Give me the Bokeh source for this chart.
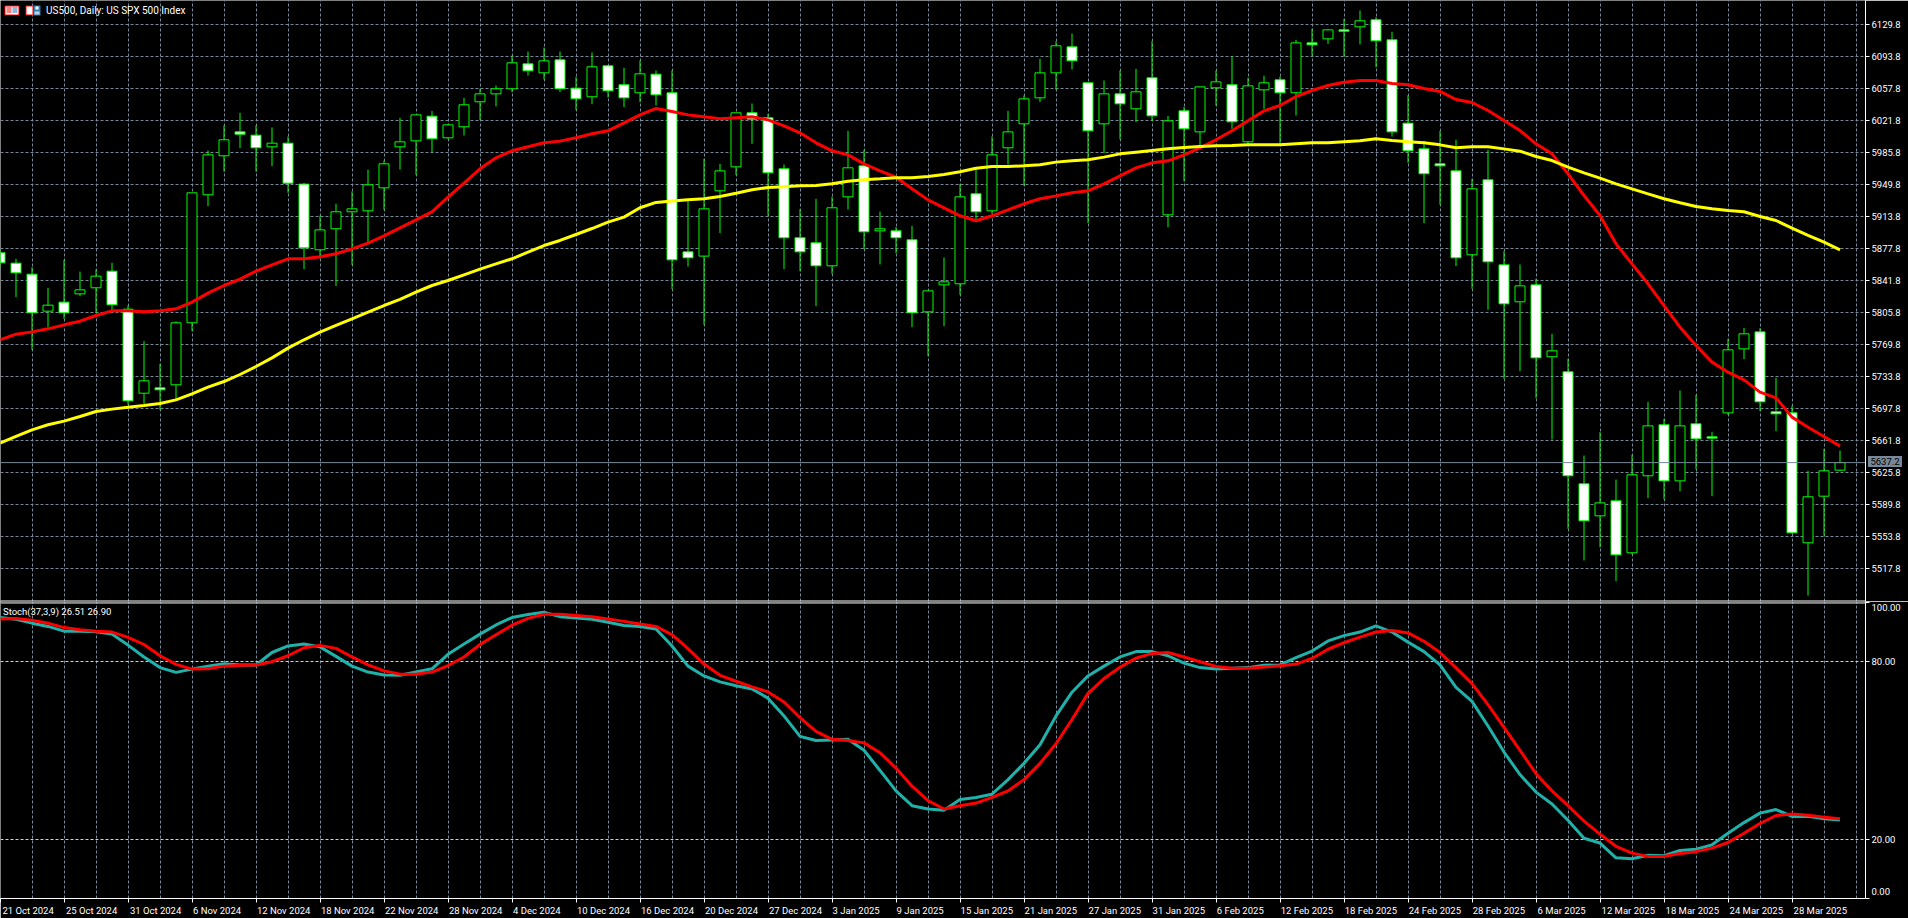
from bokeh.plotting import figure
from bokeh.layouts import column
from bokeh.models import (Range1d, FixedTicker, Grid, Span, Label, BoxAnnotation, NumeralTickFormatter,
                          AllLabels, Div)
from bokeh.embed import file_html
from bokeh.resources import INLINE

dates = ["21 Oct 2024", "25 Oct 2024", "31 Oct 2024", "6 Nov 2024", "12 Nov 2024", "18 Nov 2024", "22 Nov 2024",
         "28 Nov 2024", "4 Dec 2024", "10 Dec 2024", "16 Dec 2024", "20 Dec 2024", "27 Dec 2024", "3 Jan 2025",
         "9 Jan 2025", "15 Jan 2025", "21 Jan 2025", "27 Jan 2025", "31 Jan 2025", "6 Feb 2025", "12 Feb 2025",
         "18 Feb 2025", "24 Feb 2025", "28 Feb 2025", "6 Mar 2025", "12 Mar 2025", "18 Mar 2025", "24 Mar 2025",
         "28 Mar 2025"]
price_ticks = [6129.8, 6093.8, 6057.8, 6021.8, 5985.8, 5949.8, 5913.8, 5877.8, 5841.8, 5805.8, 5769.8, 5733.8,
               5697.8, 5661.8, 5625.8, 5589.8, 5553.8, 5517.8]
stoch_ticks = [100, 80, 20, 0]
last_price = 5637.2

opens = [5872.9, 5861.3, 5848.9, 5807.4, 5817.5, 5826.8, 5833.6, 5852.3, 5809.6, 5715.2, 5721.2, 5724.6,
         5794.3, 5938.1, 5981.9, 6008.8, 6005.1, 5992.0, 5996.1, 5950.1, 5876.3, 5899.9, 5919.0, 5920.1,
         5945.9, 5992.0, 5998.7, 6026.4, 6002.1, 6014.5, 6042.6, 6051.5, 6057.2, 6085.2, 6075.1, 6089.7,
         6057.9, 6048.2, 6083.0, 6061.7, 6052.7, 6073.6, 6052.7, 5874.0, 5869.2, 5942.6, 5969.5, 6030.2,
         6024.6, 5967.3, 5889.8, 5884.1, 5858.3, 5935.8, 5970.6, 5897.6, 5897.6, 5887.5, 5806.6, 5836.9,
         5838.1, 5939.2, 5920.1, 5990.9, 6017.8, 6047.0, 6075.1, 6104.3, 6063.9, 6017.8, 6051.5, 6034.7,
         6069.5, 5915.6, 6032.4, 6008.8, 6058.3, 6061.7, 5997.6, 6056.0, 6067.3, 6052.7, 6108.8, 6113.3,
         6123.4, 6126.8, 6134.7, 6112.2, 6018.6, 5989.7, 5972.9, 5965.0, 5870.7, 5954.9, 5859.4, 5817.9,
         5836.9, 5756.1, 5739.2, 5613.4, 5577.4, 5594.3, 5535.9, 5622.4, 5679.7, 5616.7, 5680.8, 5666.2,
         5693.1, 5765.0, 5784.1, 5694.3, 5693.1, 5547.1, 5599.5, 5628.7]
highs = [5877.4, 5866.2, 5856.8, 5833.6, 5865.0, 5851.9, 5854.2, 5861.7, 5813.7, 5773.7, 5748.2, 5795.8,
         5940.3, 5987.9, 6016.0, 6030.2, 6016.0, 6013.7, 6003.6, 5951.5, 5914.8, 5928.0, 5941.8, 5966.5,
         5976.6, 6024.6, 6027.9, 6032.4, 6017.8, 6047.0, 6057.2, 6060.9, 6094.6, 6099.1, 6103.6, 6099.1,
         6070.6, 6098.0, 6084.1, 6080.8, 6089.0, 6077.8, 6077.8, 5931.7, 5978.5, 5972.9, 6030.2, 6040.7,
         6029.1, 5972.1, 5922.0, 5933.6, 5935.8, 6010.0, 5988.6, 5919.3, 5901.7, 5903.2, 5830.2, 5867.7,
         5950.4, 5967.3, 6003.6, 6032.4, 6049.7, 6090.9, 6110.7, 6119.3, 6063.9, 6066.5, 6077.8, 6079.6,
         6110.7, 6026.8, 6036.9, 6059.4, 6077.8, 6093.5, 6069.5, 6071.8, 6071.0, 6112.2, 6124.6, 6124.6,
         6135.8, 6145.2, 6137.7, 6121.2, 6050.0, 5998.7, 6010.0, 5999.9, 5956.0, 5988.6, 5874.8, 5859.8,
         5843.7, 5781.9, 5753.8, 5645.2, 5671.4, 5618.2, 5646.0, 5705.5, 5686.4, 5718.2, 5713.4, 5671.8,
         5776.3, 5788.6, 5788.3, 5732.5, 5701.0, 5628.0, 5652.7, 5650.8]
lows = [5856.8, 5823.1, 5763.9, 5789.4, 5798.8, 5824.2, 5805.1, 5808.1, 5702.5, 5703.3, 5696.5, 5708.9,
        5784.9, 5925.3, 5964.3, 5990.5, 5964.3, 5970.3, 5940.3, 5854.6, 5866.2, 5835.5, 5859.4, 5884.9,
        5921.2, 5966.5, 5960.5, 5986.0, 6001.0, 6004.7, 6022.3, 6037.3, 6053.4, 6072.1, 6067.6, 6053.4,
        6033.2, 6039.9, 6047.4, 6036.6, 6042.2, 6038.4, 5832.1, 5857.5, 5792.0, 5895.0, 5960.2, 5995.4,
        5914.8, 5854.6, 5852.3, 5813.0, 5849.3, 5921.6, 5877.0, 5859.8, 5872.5, 5789.4, 5756.8, 5790.5,
        5825.7, 5907.4, 5916.7, 5972.1, 5948.2, 6042.2, 6056.0, 6078.9, 5906.2, 5984.9, 6000.6, 6019.7,
        6020.8, 5901.7, 5953.4, 5991.6, 6038.1, 6012.2, 5995.4, 6034.7, 5995.4, 6027.2, 6094.6, 6107.7,
        6093.5, 6107.0, 6081.5, 6003.6, 5974.0, 5906.2, 5926.8, 5857.9, 5832.5, 5808.9, 5731.3, 5740.0,
        5709.6, 5663.2, 5562.8, 5527.2, 5542.2, 5504.0, 5534.0, 5597.3, 5596.1, 5605.1, 5629.5, 5599.5,
        5690.9, 5753.4, 5695.0, 5672.5, 5557.2, 5487.9, 5555.3, 5627.6]
closes = [5861.7, 5850.4, 5805.5, 5814.1, 5805.5, 5831.3, 5846.7, 5814.5, 5706.6, 5729.1, 5719.0, 5794.3,
          5940.3, 5983.0, 5999.9, 6006.2, 5990.9, 5996.1, 5951.2, 5878.5, 5898.7, 5919.0, 5922.3, 5949.3,
          5972.9, 5997.6, 6027.9, 6001.0, 6016.7, 6039.2, 6051.5, 6057.2, 6086.4, 6077.4, 6088.6, 6057.2,
          6045.9, 6081.9, 6054.9, 6047.0, 6074.0, 6050.4, 5865.0, 5867.3, 5922.3, 5965.0, 6030.2, 6023.1,
          5962.8, 5889.8, 5874.0, 5858.3, 5923.5, 5968.4, 5896.5, 5899.9, 5889.8, 5805.5, 5830.2, 5840.3,
          5935.8, 5919.0, 5983.0, 6008.8, 6045.9, 6075.1, 6105.5, 6088.6, 6010.0, 6051.5, 6040.3, 6053.8,
          6026.8, 6021.2, 6012.2, 6059.4, 6065.0, 6020.1, 6060.5, 6063.9, 6052.7, 6108.8, 6106.6, 6123.4,
          6121.9, 6133.6, 6111.1, 6008.8, 5987.5, 5961.7, 5970.6, 5867.3, 5944.8, 5862.8, 5815.6, 5835.8,
          5754.9, 5762.8, 5622.4, 5571.8, 5592.0, 5533.6, 5623.5, 5678.5, 5616.7, 5678.5, 5663.9, 5664.7,
          5763.9, 5781.9, 5705.5, 5692.0, 5558.3, 5598.8, 5628.0, 5637.2]
ma_red = [5775.2, 5781.5, 5784.1, 5787.5, 5792.0, 5796.1, 5802.5, 5807.7, 5807.7, 5806.6, 5807.7, 5810.0,
          5817.5, 5827.6, 5836.2, 5843.3, 5852.3, 5859.4, 5866.2, 5866.2, 5868.4, 5871.8, 5877.4, 5883.8,
          5892.0, 5901.0, 5910.0, 5919.0, 5935.4, 5951.2, 5967.3, 5979.6, 5987.5, 5992.0, 5996.5, 5998.4,
          6002.1, 6006.6, 6010.0, 6019.0, 6027.9, 6035.1, 6031.7, 6027.9, 6025.7, 6023.5, 6024.6, 6025.7,
          6022.3, 6015.6, 6007.7, 5996.5, 5987.5, 5983.0, 5972.9, 5965.0, 5957.9, 5944.8, 5932.4, 5923.5,
          5914.5, 5908.9, 5914.5, 5921.2, 5928.0, 5933.6, 5936.9, 5940.3, 5942.6, 5950.4, 5959.4, 5968.4,
          5974.0, 5976.3, 5983.0, 5990.9, 5999.9, 6010.0, 6021.2, 6032.4, 6038.4, 6048.5, 6055.3, 6060.9,
          6064.6, 6066.5, 6066.5, 6063.1, 6061.7, 6057.5, 6054.2, 6045.2, 6041.8, 6032.8, 6021.6, 6010.3,
          5995.4, 5984.1, 5961.7, 5937.3, 5914.8, 5883.0, 5860.5, 5838.1, 5813.7, 5789.4, 5768.8, 5750.1,
          5738.8, 5730.2, 5716.4, 5710.0, 5688.3, 5677.0, 5666.6, 5655.7]
ma_yellow = [5659.1, 5666.6, 5674.0, 5679.7, 5683.8, 5689.0, 5694.6, 5697.3, 5699.5, 5701.4, 5703.6, 5707.7,
             5714.5, 5722.0, 5728.3, 5736.2, 5745.2, 5754.9, 5765.8, 5775.2, 5783.8, 5791.3, 5798.8, 5806.2,
             5813.7, 5820.5, 5828.7, 5836.2, 5841.8, 5848.2, 5854.6, 5860.5, 5866.2, 5873.7, 5881.1, 5886.8,
             5893.5, 5900.2, 5907.4, 5913.0, 5923.5, 5929.5, 5931.0, 5932.4, 5933.6, 5936.2, 5939.9, 5943.7,
             5946.3, 5947.1, 5948.2, 5948.6, 5950.4, 5953.4, 5954.9, 5956.0, 5957.2, 5957.2, 5958.7, 5960.9,
             5963.9, 5968.0, 5969.9, 5969.9, 5970.6, 5971.8, 5974.8, 5976.3, 5977.4, 5980.4, 5984.1, 5986.0,
             5987.9, 5989.7, 5991.2, 5992.4, 5993.1, 5993.5, 5994.2, 5994.2, 5994.2, 5995.4, 5996.5, 5996.5,
             5997.6, 5998.7, 6001.0, 5999.1, 5997.6, 5996.5, 5994.2, 5990.9, 5992.0, 5992.0, 5989.7, 5987.1,
             5981.1, 5976.6, 5969.1, 5962.8, 5956.8, 5950.4, 5944.8, 5939.2, 5933.6, 5929.1, 5925.0, 5922.3,
             5920.5, 5919.0, 5913.7, 5909.2, 5900.6, 5892.4, 5884.9, 5876.3]
stoch_main = [94.8, 94.2, 92.9, 91.8, 90.2, 90.2, 90.0, 89.2, 85.5, 81.5, 77.9, 76.3, 77.4, 78.4, 79.2, 78.8,
              78.8, 83.0, 85.2, 85.9, 84.9, 81.7, 78.4, 76.4, 75.4, 75.3, 76.4, 77.5, 82.4, 85.9, 89.2, 92.3,
              94.8, 95.8, 96.6, 95.1, 94.6, 94.2, 93.2, 92.1, 91.8, 90.9, 85.2, 78.4, 75.1, 73.1, 71.8, 70.7,
              67.6, 61.6, 54.7, 53.3, 53.5, 53.7, 50.0, 43.2, 36.3, 31.3, 30.2, 29.8, 33.4, 34.1, 35.2, 40.1,
              45.6, 51.9, 61.6, 69.6, 75.1, 78.4, 81.5, 83.3, 83.3, 81.9, 79.4, 77.9, 77.4, 77.7, 77.9, 78.7,
              78.8, 81.3, 83.5, 86.9, 88.7, 89.9, 92.0, 89.9, 86.5, 83.3, 78.8, 71.2, 66.5, 58.2, 49.4, 41.8,
              35.9, 31.9, 26.4, 20.3, 18.7, 13.7, 13.4, 14.6, 14.4, 16.2, 16.6, 18.1, 22.0, 25.6, 28.8, 30.0,
              27.7, 27.7, 26.9, 26.5]
stoch_signal = [94.3, 94.5, 93.9, 92.9, 91.4, 90.7, 90.2, 89.9, 88.1, 85.7, 81.9, 79.0, 77.4, 77.5, 78.4, 78.7,
                78.8, 79.9, 81.9, 84.6, 85.4, 84.4, 81.5, 78.8, 76.8, 75.7, 75.7, 76.4, 78.6, 81.5, 85.7, 89.0,
                92.2, 94.5, 95.9, 95.9, 95.5, 95.1, 94.3, 93.5, 92.6, 91.8, 89.0, 84.3, 79.1, 75.3, 73.3, 71.4,
                69.7, 66.3, 61.0, 56.4, 53.7, 53.3, 52.5, 49.2, 44.0, 37.9, 33.0, 30.2, 31.3, 32.2, 34.1, 36.3,
                40.1, 45.6, 52.2, 60.4, 69.2, 74.2, 78.0, 81.1, 82.7, 83.0, 81.5, 79.9, 78.3, 77.7, 77.7, 78.1,
                78.5, 79.1, 81.0, 84.1, 86.3, 88.2, 89.9, 90.4, 89.6, 86.8, 83.0, 77.8, 72.5, 65.4, 57.7, 50.0,
                42.1, 36.3, 31.3, 26.1, 21.7, 17.6, 15.3, 14.2, 14.2, 15.2, 15.8, 17.0, 18.9, 22.0, 25.3, 28.0,
                28.5, 28.1, 27.4, 26.9]
bars = list(range(len(opens)))

# ---------- layout constants (pixels of the page)
AXIS_X = 1865
TOP_H = 601
SUB_FRAME_H = 304
FONT = "Roboto"
FSIZE = "9.5px"
GRID = "#778899"
LIME = "#00ff00"

x_start = 0.5 / 16
x_end = x_start + AXIS_X / 16
main_top = 6156.39
price_per_px = 1.1235
main_bottom = main_top - TOP_H * price_per_px
sub_top = 100.21
sub_bottom = -0.01


def xp(px):
    return x_start + px / 16


def yp(py):
    return main_top - py * price_per_px


def ys(py):
    return sub_top - py * (sub_top - sub_bottom) / SUB_FRAME_H


grid_x = [i for i in range(2, 118, 2)]
tick_x = [x_start] + [i for i in range(4, 113, 4)]


def text_width(s):
    wide = {"M": 8.0, "N": 6.8, "O": 6.6, "D": 6.4, "F": 5.2, "J": 5.0, "A": 6.2, " ": 2.4}
    return sum(wide.get(c, 5.0 if c.isalpha() else 5.3) for c in s)


# the terminal writes a date to the right of its tick: the label sits at its centre, the mark at the tick
label_x = [t + (text_width(d) / 2 + 1) / 16 for t, d in zip(tick_x, dates)]


def base(height, **kw):
    f = figure(width=1908, height=height, toolbar_location=None, tools="", output_backend="svg",
               x_range=Range1d(x_start, x_end), background_fill_color="black", border_fill_color="black",
               outline_line_color=None, min_border=0, min_border_right=1908 - AXIS_X, **kw)
    for g in f.grid:
        g.visible = False
    f.add_layout(Grid(dimension=0, ticker=FixedTicker(ticks=grid_x), grid_line_color=GRID,
                      grid_line_dash="3 2", grid_line_width=1))
    ax = f.yaxis[0]
    ax.axis_line_color = "white"
    ax.major_tick_line_color = "white"
    ax.major_tick_out = 4
    ax.major_tick_in = 0
    ax.minor_tick_line_color = None
    ax.major_label_text_color = "white"
    ax.major_label_text_font = FONT
    ax.major_label_text_font_size = FSIZE
    ax.major_label_standoff = 2
    ax.major_label_policy = AllLabels()
    return f


# ---------- price pane
p1 = base(TOP_H, y_range=Range1d(main_bottom, main_top), x_axis_location=None, y_axis_location="right")
p1.yaxis[0].ticker = FixedTicker(ticks=price_ticks)
p1.yaxis[0].formatter = NumeralTickFormatter(format="0.0")
p1.add_layout(Grid(dimension=1, ticker=FixedTicker(ticks=price_ticks), grid_line_color=GRID,
                   grid_line_dash="3 2", grid_line_width=1))
p1.add_layout(Span(location=last_price, dimension="width", line_color=GRID, line_width=1))
p1.add_layout(Span(location=yp(600.5), dimension="width", line_color="white", line_width=1))

p1.segment(bars, lows, bars, highs, line_color=LIME, line_width=1)
up = [i for i in bars if closes[i] >= opens[i]]
down = [i for i in bars if closes[i] < opens[i]]
p1.vbar(up, width=0.625, top=[closes[i] for i in up], bottom=[opens[i] for i in up],
        fill_color="black", line_color=LIME, line_width=1)
p1.vbar(down, width=0.625, top=[opens[i] for i in down], bottom=[closes[i] for i in down],
        fill_color="white", line_color=LIME, line_width=1)
p1.line(bars, ma_red, line_color="#ff0000", line_width=3)
p1.line(bars, ma_yellow, line_color="#ffff00", line_width=3)

p1.add_layout(Label(x=xp(45.5), y=yp(10), text="US500, Daily:  US SPX 500 Index", text_color="white",
                    text_font=FONT, text_font_size="10px", text_baseline="middle"))


def box(l, r, t, b, color):
    p1.add_layout(BoxAnnotation(left=xp(l), right=xp(r), top=yp(t), bottom=yp(b), fill_color=color,
                                fill_alpha=1, line_color=None, level="overlay"))


# toolbar icons of the terminal
box(4, 19, 5, 15, "#ff0000")
box(5, 18, 6, 14, "#ffffff")
for row in (7, 9, 11):
    box(6, 11, row, row + 1, "#ff0000")
    box(12, 17, row, row + 1, "#1f6fb5")
box(25, 33, 5, 15, "#ff0000")
box(26, 32, 6, 14, "#ffffff")
box(33, 40, 5, 15, "#2f7fb8")
box(35, 38, 6, 9, "#ffffff")
box(34, 39, 11, 14, "#c8d0d8")

# ---------- stochastic pane
p2 = base(918 - TOP_H, y_range=Range1d(sub_bottom, sub_top), y_axis_location="right")
p2.min_border_bottom = 13
ya = p2.yaxis[0]
ya.ticker = FixedTicker(ticks=[ys(6.3), 80, 20, ys(297.3)], minor_ticks=stoch_ticks)
ya.major_label_overrides = {ys(6.3): "100.00", 80: "80.00", 20: "20.00", ys(297.3): "0.00"}
ya.major_tick_line_color = None
ya.minor_tick_line_color = "white"
ya.minor_tick_out = 4
ya.minor_tick_in = 0
p2.add_layout(Grid(dimension=1, ticker=FixedTicker(ticks=[20, 80]), grid_line_color="#d0d4d8",
                   grid_line_dash="3 2", grid_line_width=1))
p2.add_layout(Span(location=ys(1.5), dimension="width", line_color="white", line_width=1))
xa = p2.xaxis[0]
xa.ticker = FixedTicker(ticks=label_x, minor_ticks=tick_x)
xa.major_label_overrides = dict(zip(label_x, dates))
xa.axis_line_color = "white"
xa.major_tick_line_color = None
xa.major_tick_out = 0
xa.major_tick_in = 0
xa.minor_tick_line_color = "white"
xa.minor_tick_out = 4
xa.minor_tick_in = 0
xa.major_label_text_color = "white"
xa.major_label_text_font = FONT
xa.major_label_text_font_size = FSIZE
xa.major_label_standoff = 2
xa.major_label_policy = AllLabels()

p2.line(bars, stoch_main, line_color="#20b2aa", line_width=3)
p2.line(bars, stoch_signal, line_color="#ff0000", line_width=3)
p2.add_layout(Label(x=xp(2.5), y=ys(10.7), text="Stoch(37,3,9) 26.51 26.90", text_color="white", text_font=FONT,
                    text_font_size=FSIZE, text_baseline="middle"))

# ---------- last price tag, laid over the price axis
tag = Div(text="%.1f" % last_price, width=34, height=11, margin=0,
          styles={"position": "absolute", "left": "1868px", "top": "456px", "background-color": GRID,
                  "color": "black", "font-family": FONT, "font-size": FSIZE, "line-height": "11px",
                  "text-align": "center"})

page = column(p1, p2, tag, spacing=0)
open("out.html", "w").write(file_html(page, INLINE))
